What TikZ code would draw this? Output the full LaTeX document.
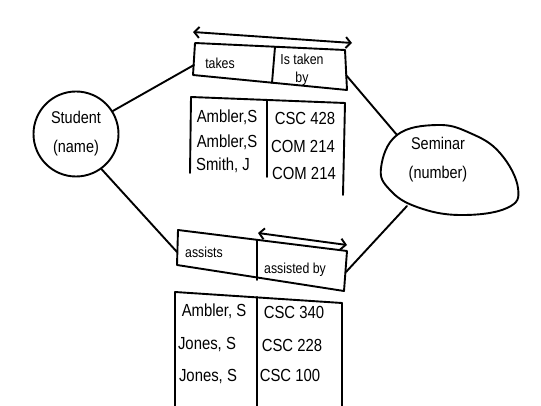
\documentclass[tikz,border=0pt]{standalone}
\usepackage{fontspec}
\setmainfont[FakeStretch=0.85]{Liberation Sans}
\usetikzlibrary{arrows.meta}
\begin{document}
\begin{tikzpicture}[x=1pt,y=-1pt,line width=1.9pt,line join=round,line cap=round,
  txt/.style={font=\fontsize{17.5}{18}\selectfont,inner sep=0pt},
  hdr/.style={font=\fontsize{14.5}{15}\selectfont,inner sep=0pt},
  ent/.style={inner sep=0pt,font=\fontsize{17}{29}\selectfont,align=center},
  twoway/.style={{Straight Barb[length=5pt,width=11pt]}-{Straight Barb[length=5pt,width=11pt]}}]
\useasboundingbox (0,0) rectangle (541,406);
% entities
\node[ent,draw,circle,minimum size=85pt] (student) at (76,134) {Student\\(name)};
\node[ent] (seminar) at (438,160) {Seminar\\(number)};
\draw plot[smooth cycle,tension=0.7] coordinates {(381,168) (397,135) (437,125) (470,133) (500,153) (518,188) (507,208) (460,215) (417,207) (390,190)};
\coordinate (semTL) at (397,135);
\coordinate (semBL) at (407,206);
% top relationship
\coordinate (h1TL) at (195,43); \coordinate (h1TR) at (345,50);
\coordinate (h1BR) at (347,90); \coordinate (h1BL) at (193,75);
\draw (h1TL) -- (h1TR) -- (h1BR) -- (h1BL) -- cycle;
\draw (275,47) -- (272,83);
\coordinate (h1L) at (194,65); \coordinate (h1R) at (346,75);
\coordinate (a1s) at (193,32); \coordinate (a1e) at (352,43);
\draw[twoway] (a1s) -- (a1e);
\node[hdr] (takes) at (220,63) {takes};
\node[hdr,align=center,font=\fontsize{14.5}{18}\selectfont] (istaken) at (302,70) {Is taken\\by};
\draw (191,97) -- (345,103);
\draw (191,97) -- (190,173);
\draw (267,100) -- (267,177);
\draw (345,103) -- (343,195);
\node[txt] (t1a) at (227,117) {Ambler,S};
\node[txt] (t1b) at (227,142) {Ambler,S};
\node[txt] (t1c) at (223,165) {Smith, J};
\node[txt] (t1d) at (305,118) {CSC 428};
\node[txt] (t1e) at (303,146) {COM 214};
\node[txt] (t1f) at (304,173) {COM 214};
% bottom relationship
\coordinate (h2TL) at (178,230); \coordinate (h2TR) at (347,251);
\coordinate (h2BR) at (344,291); \coordinate (h2BL) at (177,265);
\draw (h2TL) -- (h2TR) -- (h2BR) -- (h2BL) -- cycle;
\draw (257,240) -- (257,280);
\coordinate (h2L) at (177,252); \coordinate (h2R) at (346,272);
\coordinate (a2s) at (258,233); \coordinate (a2e) at (347,245);
\draw[twoway] (a2s) -- (a2e);
\node[hdr] (assists) at (204,252) {assists};
\node[hdr] (assistedby) at (295,270) {assisted by};
\draw (175,292) -- (342,303);
\draw (175,292) -- (175,406);
\draw (257,297) -- (257,406);
\draw (342,303) -- (342,406);
\node[txt] (t2a) at (214,311) {Ambler, S};
\node[txt] (t2b) at (207,345) {Jones, S};
\node[txt] (t2c) at (208,377) {Jones, S};
\node[txt] (t2d) at (294,312) {CSC 340};
\node[txt] (t2e) at (292,345) {CSC 228};
\node[txt] (t2f) at (290,375) {CSC 100};
% connectors
\draw (student.32) -- (h1L);
\draw (h1R) -- (semTL);
\draw (student.-54) -- (h2L);
\draw (h2R) -- (semBL);
\end{tikzpicture}
\end{document}
